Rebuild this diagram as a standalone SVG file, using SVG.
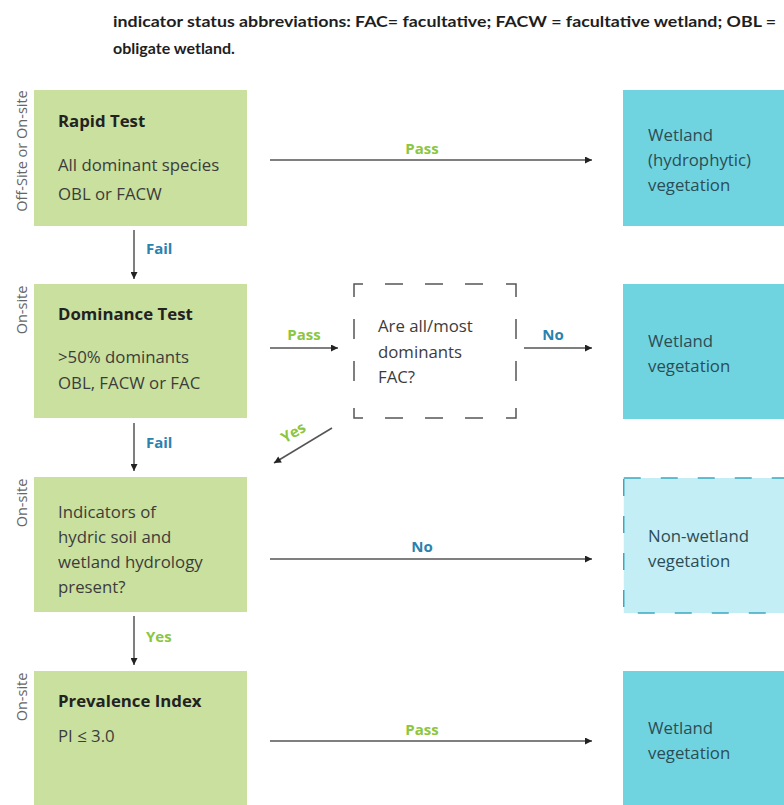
<svg xmlns="http://www.w3.org/2000/svg" width="784" height="805" viewBox="0 0 784 805">
<defs>
<marker id="ah" viewBox="0 0 10 10" refX="10" refY="5" markerWidth="9" markerHeight="7" markerUnits="userSpaceOnUse" orient="auto">
<path d="M0,0 L10,5 L0,10 Z" fill="#222"/>
</marker>
<style>
.title{font-family:Lato,"Open Sans",sans-serif;font-weight:bold;font-size:16px;fill:#1e1e1e}
.green{fill:#c9e09e}
.cyan{fill:#70d4e0}
.light{fill:#c4eef5;stroke:#3aa9bf;stroke-width:1.5;stroke-dasharray:17 20}
.t{font-family:"Open Sans","Noto Sans",sans-serif;font-size:16.8px;fill:#3c3c3c}
.tc{font-family:"Open Sans","Noto Sans",sans-serif;font-size:16.8px;fill:#2b4d55}
.h{font-family:"Open Sans","Noto Sans",sans-serif;font-size:16.8px;font-weight:bold;fill:#222}
.side{font-family:"Open Sans","Noto Sans",sans-serif;font-size:14.5px;fill:#666;text-anchor:middle}
.lp{font-family:"Open Sans","Noto Sans",sans-serif;font-size:15px;font-weight:bold;fill:#8cc63f}
.lb{font-family:"Open Sans","Noto Sans",sans-serif;font-size:15px;font-weight:bold;fill:#2a82ae}
.con{stroke:#555;stroke-width:1.5;fill:none;marker-end:url(#ah)}
.dash{stroke:#555;stroke-width:1.5;fill:none}
</style>
</defs>
<rect width="784" height="805" fill="#ffffff"/>
<g id="title">
<text class="title" x="113" y="27" textLength="663" lengthAdjust="spacingAndGlyphs">indicator status abbreviations: FAC= facultative; FACW = facultative wetland; OBL =</text>
<text class="title" x="113" y="54">obligate wetland.</text>
</g>
<g id="rapid">
<rect class="green" x="34" y="90" width="213" height="136"/>
<text class="side" transform="translate(27,151) rotate(-90)">Off-Site or On-site</text>
<text class="h" x="58" y="127">Rapid Test</text>
<text class="t" x="58" y="171">All dominant species</text>
<text class="t" x="58" y="200">OBL or FACW</text>
</g>
<g id="wetland1">
<rect class="cyan" x="623" y="90" width="161" height="136"/>
<text class="tc" x="648" y="141">Wetland</text>
<text class="tc" x="648" y="166">(hydrophytic)</text>
<text class="tc" x="648" y="191">vegetation</text>
</g>
<g id="dominance">
<rect class="green" x="34" y="284" width="213" height="134"/>
<text class="side" transform="translate(27,310) rotate(-90)">On-site</text>
<text class="h" x="58" y="320">Dominance Test</text>
<text class="t" x="58" y="363">&gt;50% dominants</text>
<text class="t" x="58" y="389">OBL, FACW or FAC</text>
</g>
<g id="fac">
<path class="dash" d="M354,297 V284 H363 M385,284 H403 M425,284 H443 M465,284 H483 M506,284 H516 V297 M354,408 V418 H363 M385,418 H403 M425,418 H443 M465,418 H483 M506,418 H516 V408 M354,319 V339 M354,361 V381 M516,319 V339 M516,361 V381"/>
<text class="t" x="378" y="332">Are all/most</text>
<text class="t" x="378" y="358">dominants</text>
<text class="t" x="378" y="383">FAC?</text>
</g>
<g id="wetland2">
<rect class="cyan" x="623" y="284" width="161" height="135"/>
<text class="tc" x="648" y="347">Wetland</text>
<text class="tc" x="648" y="372">vegetation</text>
</g>
<g id="indicators">
<rect class="green" x="34" y="477" width="213" height="135"/>
<text class="side" transform="translate(27,503) rotate(-90)">On-site</text>
<text class="t" x="58" y="518">Indicators of</text>
<text class="t" x="58" y="543">hydric soil and</text>
<text class="t" x="58" y="568">wetland hydrology</text>
<text class="t" x="58" y="593">present?</text>
</g>
<g id="nonwetland">
<rect class="light" x="623.75" y="478" width="170" height="135"/>
<text class="tc" x="648" y="542">Non-wetland</text>
<text class="tc" x="648" y="567">vegetation</text>
</g>
<g id="prevalence">
<rect class="green" x="34" y="671" width="213" height="140"/>
<text class="side" transform="translate(27,697) rotate(-90)">On-site</text>
<text class="h" x="58" y="707">Prevalence Index</text>
<text class="t" x="58" y="742">PI ≤ 3.0</text>
</g>
<g id="wetland4">
<rect class="cyan" x="623" y="671" width="161" height="140"/>
<text class="tc" x="648" y="734">Wetland</text>
<text class="tc" x="648" y="759">vegetation</text>
</g>
<g id="connectors">
<line class="con" x1="270" y1="160" x2="592" y2="160"/>
<text class="lp" x="422" y="154" text-anchor="middle">Pass</text>
<line class="con" x1="134" y1="230" x2="134" y2="279"/>
<text class="lb" x="146" y="254">Fail</text>
<line class="con" x1="270" y1="348" x2="338" y2="348"/>
<text class="lp" x="304" y="340" text-anchor="middle">Pass</text>
<line class="con" x1="524" y1="348" x2="592" y2="348"/>
<text class="lb" x="553" y="340" text-anchor="middle">No</text>
<line class="con" x1="332" y1="428" x2="274" y2="463"/>
<text class="lp" transform="translate(296,437) rotate(-31)" text-anchor="middle" font-size="13">Yes</text>
<line class="con" x1="134" y1="423" x2="134" y2="471"/>
<text class="lb" x="146" y="448">Fail</text>
<line class="con" x1="270" y1="559" x2="592" y2="559"/>
<text class="lb" x="422" y="552" text-anchor="middle">No</text>
<line class="con" x1="134" y1="616" x2="134" y2="665"/>
<text class="lp" x="146" y="642">Yes</text>
<line class="con" x1="270" y1="741" x2="592" y2="741"/>
<text class="lp" x="422" y="735" text-anchor="middle">Pass</text>
</g>
</svg>
